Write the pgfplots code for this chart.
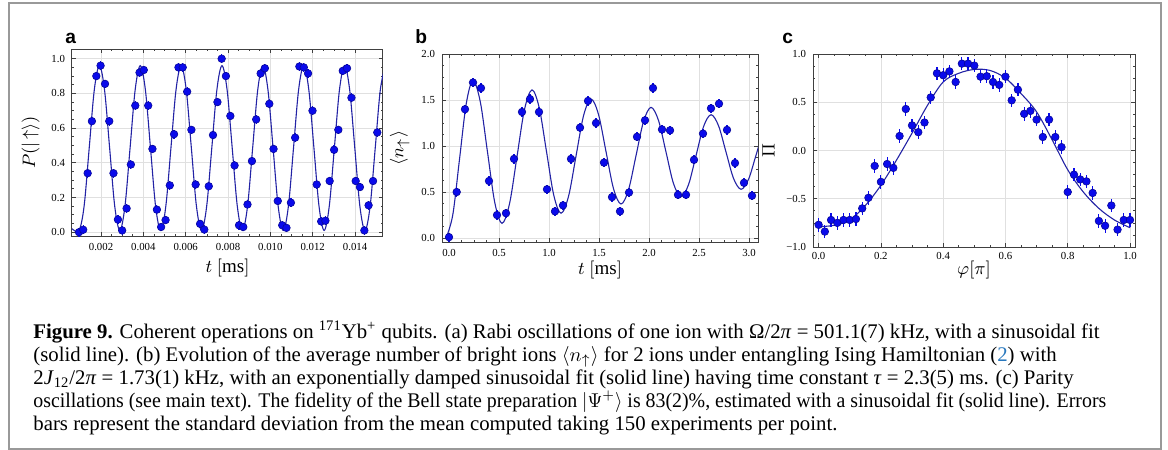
\documentclass[border=0pt]{standalone}
\usepackage{pgfplots}
\pgfplotsset{compat=1.18}
\usepackage{pgfplotstable}
\usepackage{graphicx}
\usepackage{fontspec}
\setmainfont{Liberation Serif}
\newfontfamily\letterfont{Liberation Sans}
\definecolor{markblue}{RGB}{10,10,235}
\definecolor{lineblue}{RGB}{35,35,165}
\definecolor{linkblue}{RGB}{40,120,190}

% panel (a): Rabi oscillations
\pgfplotstableread{
t p
0.00096 0.000
0.00116 0.014
0.00137 0.34
0.00157 0.64
0.00178 0.90
0.00198 0.96
0.00219 0.855
0.00239 0.64
0.00259 0.34
0.0028 0.073
0.0030 0.01
0.00321 0.137
0.00341 0.39
0.00362 0.73
0.00382 0.92
0.00402 0.935
0.00423 0.73
0.00443 0.48
0.00464 0.13
0.00484 0.03
0.00505 0.07
0.00525 0.27
0.00545 0.565
0.00566 0.95
0.00586 0.95
0.00607 0.81
0.00627 0.59
0.00647 0.275
0.00668 0.048
0.00688 0.015
0.00709 0.265
0.00729 0.56
0.0075 0.75
0.0077 1.00
0.0079 0.90
0.00811 0.67
0.00831 0.385
0.00852 0.04
0.00872 0.03
0.00892 0.16
0.00913 0.41
0.00933 0.65
0.00954 0.915
0.00974 0.945
0.00995 0.74
0.01015 0.48
0.01035 0.18
0.01056 0.04
0.01076 0.025
0.01097 0.17
0.01117 0.545
0.01137 0.955
0.01158 0.95
0.01178 0.915
0.01199 0.70
0.01219 0.275
0.0124 0.062
0.0126 0.066
0.0128 0.295
0.01301 0.475
0.01321 0.59
0.01342 0.93
0.01362 0.945
0.01383 0.775
0.01403 0.295
0.01423 0.26
0.01444 0.01
0.01464 0.155
0.01485 0.295
0.01505 0.575
}\rabidata

\pgfplotstableread{
t p
0.00063 0.02
0.00096 0.01
0.001201 0.149
0.001443 0.485
0.001684 0.821
0.001925 0.96
0.002166 0.821
0.002408 0.485
0.002649 0.149
0.00289 0.01
0.003131 0.149
0.003373 0.485
0.003614 0.821
0.003855 0.96
0.004096 0.821
0.004338 0.485
0.004579 0.149
0.00482 0.01
0.005061 0.149
0.005303 0.485
0.005544 0.821
0.005785 0.96
0.006026 0.821
0.006268 0.485
0.006509 0.149
0.00675 0.01
0.006991 0.149
0.007233 0.485
0.007474 0.821
0.007715 0.96
0.007956 0.821
0.008198 0.485
0.008439 0.149
0.00868 0.01
0.008921 0.149
0.009163 0.485
0.009404 0.821
0.009645 0.96
0.009886 0.821
0.010128 0.485
0.010369 0.149
0.01061 0.01
0.010851 0.149
0.011093 0.485
0.011334 0.821
0.011575 0.96
0.011816 0.821
0.012058 0.485
0.012299 0.149
0.01254 0.01
0.012781 0.149
0.013023 0.485
0.013264 0.821
0.013505 0.96
0.013746 0.821
0.013988 0.485
0.014229 0.149
0.01447 0.01
0.014711 0.149
0.014953 0.485
0.015194 0.821
0.015435 0.96
}\rabifit

% panel (b): bright ions
\pgfplotstableread{
t n
0.0 0.01
0.077 0.50
0.16 1.40
0.24 1.69
0.32 1.63
0.40 0.62
0.48 0.25
0.57 0.27
0.65 0.86
0.73 1.37
0.81 1.51
0.90 1.37
0.98 0.53
1.06 0.29
1.14 0.355
1.22 0.86
1.31 1.20
1.39 1.49
1.47 1.25
1.55 0.82
1.63 0.445
1.71 0.29
1.80 0.495
1.88 1.10
1.96 1.28
2.04 1.63
2.13 1.18
2.21 1.17
2.29 0.47
2.37 0.47
2.45 0.85
2.54 1.135
2.62 1.41
2.70 1.46
2.78 1.175
2.86 0.815
2.95 0.60
3.03 0.46
}\isingdata

\pgfplotstableread{
t n
-0.03 0.0
0.0375 0.25
0.105 0.855
0.1725 1.46
0.24 1.71
0.3125 1.483
0.385 0.935
0.4575 0.387
0.53 0.16
0.605 0.372
0.68 0.885
0.755 1.398
0.83 1.61
0.9025 1.414
0.975 0.94
1.0475 0.466
1.12 0.27
1.195 0.452
1.27 0.89
1.345 1.328
1.42 1.51
1.495 1.343
1.57 0.94
1.645 0.537
1.72 0.37
1.795 0.524
1.87 0.895
1.945 1.266
2.02 1.42
2.095 1.278
2.17 0.935
2.245 0.592
2.32 0.45
2.395 0.58
2.47 0.895
2.545 1.21
2.62 1.34
2.695 1.221
2.77 0.935
2.845 0.649
2.92 0.53
2.995 0.638
3.07 0.90
3.145 1.162
3.22 1.27
}\isingfit

% panel (c): parity
\pgfplotstableread{
phi par
0.00 -0.77
0.02 -0.84
0.04 -0.72
0.06 -0.75
0.08 -0.72
0.10 -0.72
0.12 -0.71
0.14 -0.60
0.16 -0.49
0.18 -0.16
0.20 -0.325
0.22 -0.14
0.24 -0.18
0.26 0.15
0.28 0.43
0.30 0.26
0.32 0.19
0.34 0.29
0.36 0.55
0.38 0.80
0.40 0.78
0.42 0.82
0.44 0.71
0.46 0.90
0.48 0.90
0.50 0.88
0.52 0.765
0.54 0.77
0.56 0.71
0.58 0.68
0.60 0.765
0.62 0.52
0.64 0.63
0.66 0.38
0.68 0.41
0.70 0.32
0.72 0.14
0.74 0.32
0.76 0.14
0.78 0.035
0.80 -0.43
0.82 -0.25
0.84 -0.30
0.86 -0.32
0.88 -0.44
0.90 -0.73
0.92 -0.78
0.94 -0.57
0.96 -0.82
0.98 -0.72
1.00 -0.72
}\paritydata

\pgfplotstableread{
phi par
0.00 -0.79
0.05 -0.775
0.10 -0.72
0.15 -0.57
0.20 -0.36
0.25 -0.10
0.30 0.18
0.35 0.47
0.40 0.71
0.45 0.80
0.50 0.84
0.55 0.83
0.60 0.75
0.65 0.59
0.70 0.40
0.75 0.11
0.80 -0.20
0.85 -0.43
0.90 -0.60
0.95 -0.72
1.00 -0.80
}\parityfit

\pgfplotsset{
  panel/.style={
    scale only axis,
    axis line style={black!75, line width=0.5pt},
    tick style={black!75, line width=0.35pt},
    tick align=inside,
    major tick length=2pt,
    minor tick length=1.2pt,
    minor tick num=3,
    grid=major,
    grid style={black!12, line width=0.35pt},
    tick label style={font=\fontsize{5.4}{6}\selectfont},
    /pgf/number format/assume math mode=true,
    label style={font=\fontsize{9.5}{11}\selectfont},
    ylabel style={yshift=-1pt},
  },
  pts/.style={only marks, mark=*, mark size=1.9pt,
    mark options={fill=markblue, draw=markblue!65!black, line width=0.3pt},
    error bars/.cd, y dir=both, y fixed=#1, error mark=none,
    error bar style={markblue, line width=0.6pt}},
  fit/.style={lineblue, line width=0.55pt, smooth, tension=0.55, no marks},
}

\begin{document}
\begin{tikzpicture}
\useasboundingbox (0,0) rectangle (584pt,-225pt);
\draw[black!40, line width=1pt] (4.5pt,-1.5pt) rectangle (580.5pt,-224.5pt);

\begin{axis}[panel,
  at={(36pt,-24.5pt)}, anchor=north west,
  width=155.5pt, height=93.5pt,
  xmin=0.00063, xmax=0.01532, ymin=-0.022, ymax=1.056,
  xtick={0.002,0.004,...,0.014}, ytick={0,0.2,...,1.0},
  scaled x ticks=false,
  xticklabel style={/pgf/number format/.cd, fixed, fixed zerofill, precision=3},
  yticklabel style={/pgf/number format/.cd, fixed, fixed zerofill, precision=1},
  xlabel={$t\ [\mathrm{ms}]$}, ylabel={$P(|\!\uparrow\rangle)$},
  xlabel style={yshift=2.5pt},
]
\addplot[fit] table[x=t, y=p] {\rabifit};
\addplot[pts=0.025] table[x=t, y=p] {\rabidata};
\end{axis}

\begin{axis}[panel,
  at={(221pt,-27pt)}, anchor=north west,
  width=158pt, height=94pt,
  xmin=-0.07, xmax=3.09, ymin=-0.043, ymax=2.0,
  xtick={0,0.5,...,3.0}, ytick={0,0.5,...,2.0},
  xticklabel style={/pgf/number format/.cd, fixed, fixed zerofill, precision=1},
  yticklabel style={/pgf/number format/.cd, fixed, fixed zerofill, precision=1},
  xlabel={$t\ [\mathrm{ms}]$}, ylabel={$\langle n_{\uparrow}\rangle$},
  xlabel style={yshift=4.5pt},
]
\addplot[fit] table[x=t, y=n] {\isingfit};
\addplot[pts=0.05] table[x=t, y=n] {\isingdata};
\end{axis}

\begin{axis}[panel,
  at={(406.5pt,-27pt)}, anchor=north west,
  width=161pt, height=96.5pt,
  xmin=-0.018, xmax=1.016, ymin=-1, ymax=1,
  xtick={0,0.2,...,1.0}, ytick={-1,-0.5,0,0.5,1},
  yticklabels={−1.0,−0.5,0.0,0.5,1.0},
  xticklabel style={yshift=1pt, /pgf/number format/.cd, fixed, fixed zerofill, precision=1},
  xlabel={$\varphi[\pi]$}, ylabel={$\Pi$},
  xlabel style={yshift=6pt},
]
\addplot[fit] table[x=phi, y=par] {\parityfit};
\addplot[pts=0.07] table[x=phi, y=par] {\paritydata};
\end{axis}

\node[anchor=base west, inner sep=0, font=\letterfont\bfseries\fontsize{9.6}{11}\selectfont] at (32.5pt,-21.5pt) {a};
\node[anchor=base west, inner sep=0, font=\letterfont\bfseries\fontsize{9.6}{11}\selectfont] at (207.5pt,-21.5pt) {b};
\node[anchor=base west, inner sep=0, font=\letterfont\bfseries\fontsize{9.6}{11}\selectfont] at (391pt,-21.5pt) {c};

\begin{scope}[every node/.style={anchor=base west, inner sep=0, font=\fontsize{10.4}{11.5}\selectfont}]
\node at (16.5pt,-169pt) {\textbf{Figure 9.} Coherent operations on \textsuperscript{171}Yb\textsuperscript{+} qubits. (a) Rabi oscillations of one ion with Ω/2\textit{π} = 501.1(7) kHz, with a sinusoidal fit};
\node at (16.5pt,-180.5pt) {(solid line). (b) Evolution of the average number of bright ions $\langle n_{\uparrow}\rangle$ for 2 ions under entangling Ising Hamiltonian (\textcolor{linkblue}{2}) with};
\node at (16.5pt,-192pt) {2\textit{J}\textsubscript{12}/2\textit{π} = 1.73(1) kHz, with an exponentially damped sinusoidal fit (solid line) having time constant \textit{τ} = 2.3(5) ms. (c) Parity};
\node at (16.5pt,-203.5pt) {\scalebox{0.955}[1]{oscillations (see main text). The fidelity of the Bell state preparation $|\Psi^{+}\rangle$ is 83(2)\%, estimated with a sinusoidal fit (solid line). Errors}};
\node at (16.5pt,-215pt) {bars represent the standard deviation from the mean computed taking 150 experiments per point.};
\end{scope}
\end{tikzpicture}
\end{document}
